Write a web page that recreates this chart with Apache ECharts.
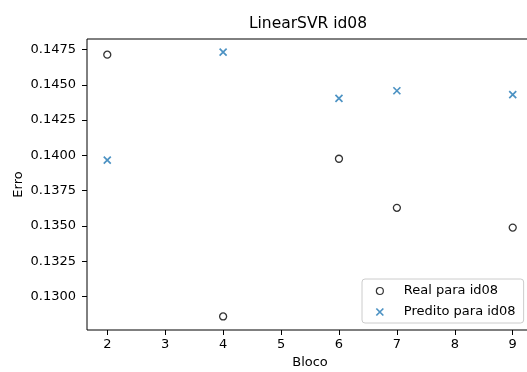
<!DOCTYPE html>
<html>
<head>
<meta charset="utf-8">
<script src="https://cdn.jsdelivr.net/npm/echarts@6/dist/echarts.min.js"></script>
<style>html,body{margin:0;padding:0;background:#fff;}#c{width:527px;height:372px;}</style>
</head>
<body>
<div id="c"></div>
<script>
const blocos = [2, 4, 6, 7, 9];
const real = [0.14714, 0.12858, 0.13976, 0.13628, 0.13488];
const predito = [0.13966, 0.14732, 0.14404, 0.14458, 0.14430];
const xTicks = [2, 3, 4, 5, 6, 7, 8, 9];
const yTicks = [0.1300, 0.1325, 0.1350, 0.1375, 0.1400, 0.1425, 0.1450, 0.1475];

const font = 'DejaVu Sans';
const chart = echarts.init(document.getElementById('c'), null, {renderer: 'canvas'});
chart.setOption({
  animation: false,
  backgroundColor: '#fff',
  textStyle: {fontFamily: font},
  title: {
    text: 'LinearSVR id08', left: 308, top: 16, padding: 0, textAlign: 'center',
    textStyle: {fontFamily: font, fontSize: 15.5, fontWeight: 'normal', color: '#000'}
  },
  grid: {left: 87, top: 39, width: 446, height: 291, show: true, borderColor: '#000', borderWidth: 1,
         containLabel: false, outerBoundsMode: 'none'},
  xAxis: {
    type: 'value', min: 1.65, max: 9.35,
    name: 'Bloco', nameLocation: 'middle', nameGap: 26, nameMoveOverlap: false,
    nameTextStyle: {fontFamily: font, fontSize: 13, color: '#000'},
    axisLine: {show: false},
    axisTick: {show: true, inside: false, length: 5, customValues: xTicks, lineStyle: {color: '#000', width: 1}},
    axisLabel: {customValues: xTicks, margin: 8, fontFamily: font, fontSize: 13, color: '#000', formatter: v => String(v)},
    splitLine: {show: false}
  },
  yAxis: {
    type: 'value', min: 0.12762, max: 0.14825,
    name: 'Erro', nameLocation: 'middle', nameGap: 62, nameRotate: 90, nameMoveOverlap: false,
    nameTextStyle: {fontFamily: font, fontSize: 13, color: '#000'},
    axisLine: {show: false},
    axisTick: {show: true, inside: false, length: 5, customValues: yTicks, lineStyle: {color: '#000', width: 1}},
    axisLabel: {customValues: yTicks, margin: 11, fontFamily: font, fontSize: 13, color: '#000', formatter: v => v.toFixed(4)},
    splitLine: {show: false}
  },
  legend: {
    orient: 'vertical', left: 362, top: 279,
    padding: [5, 8, 4, 13.5],
    itemWidth: 7, itemHeight: 7, itemGap: 7,
    backgroundColor: 'rgba(255,255,255,0.8)', borderColor: '#cccccc', borderWidth: 1, borderRadius: 3,
    textStyle: {fontFamily: font, fontSize: 13, color: '#000', lineHeight: 14, padding: [0, 0, 0, 15.5]},
    data: [
      {name: 'Real para id08', itemStyle: {color: 'rgba(0,0,0,0)', borderColor: '#000', borderWidth: 1.2}},
      {name: 'Predito para id08', itemStyle: {color: 'rgba(0,0,0,0)', borderColor: '#1f77b4', borderWidth: 1.7}}
    ]
  },
  series: [
    {
      name: 'Real para id08', type: 'scatter',
      data: blocos.map((b, i) => [b, real[i]]),
      symbol: 'circle', symbolSize: 7,
      itemStyle: {color: 'rgba(0,0,0,0)', borderColor: '#000', borderWidth: 1.3}
    },
    {
      name: 'Predito para id08', type: 'scatter',
      data: blocos.map((b, i) => [b, predito[i]]),
      symbol: 'path://M0,0L10,10M10,0L0,10', symbolSize: 7,
      itemStyle: {color: 'rgba(0,0,0,0)', borderColor: '#1f77b4', borderWidth: 1.7}
    }
  ]
});
</script>
</body>
</html>
